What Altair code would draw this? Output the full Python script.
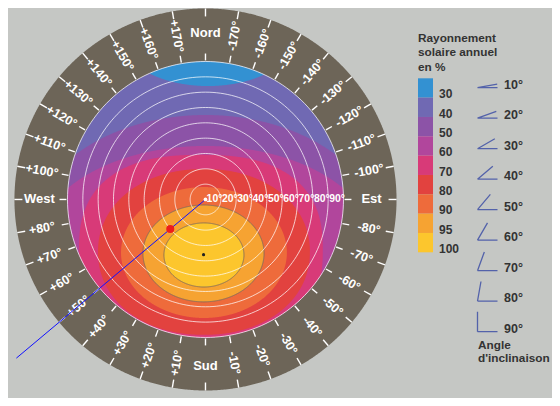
import numpy as np
import pandas as pd
import altair as alt

# ---------------- data ----------------
# legend: annual solar radiation in %
levels = ["30", "40", "50", "60", "70", "80", "90", "95", "100"]
level_colors = ["#3391d2", "#7069b3", "#8c53a7", "#b1469c", "#d83a78",
                "#e2423f", "#ee6b3b", "#f6a332", "#fcc62d"]

# contour regions, in degrees of tilt from the centre (x east-positive, y north-positive)
ell_level = ["30", "50", "60", "70", "80", "90", "95", "100"]
ell_cx = [1.6, 0.0, 0.0, -3.0, -1.0, -1.0, -1.3, -1.0]
ell_cy = [104.0, -26.4, -29.7, -32.9, -34.2, -34.6, -35.2, -36.2]
ell_rx = [55.4, 116.1, 109.6, 79.5, 69.1, 54.1, 39.5, 26.1]
ell_ry = [30.0, 81.5, 64.6, 62.0, 54.1, 42.7, 31.6, 20.9]
ell_power = [2.0, 2.0, 2.0, 2.5, 2.1, 2.0, 2.0, 2.0]
ell_outlined = [False, False, False, False, False, False, True, True]

# tilt circles
tilts = [10, 20, 30, 40, 50, 60, 70, 80, 90]
tilt_labels = ["10°", "20°", "30°", "40°", "50°", "60°", "70°", "80°", "90°"]

# azimuth ring (0 = Sud, +90 = West, -90 = Est, 180 = Nord)
azimuths = [-170, -160, -150, -140, -130, -120, -110, -100, -90, -80, -70, -60,
            -50, -40, -30, -20, -10, 0, 10, 20, 30, 40, 50, 60, 70, 80, 90,
            100, 110, 120, 130, 140, 150, 160, 170, 180]
azimuth_labels = ["-170°", "-160°", "-150°", "-140°", "-130°", "-120°", "-110°",
                  "-100°", "Est", "-80°", "-70°", "-60°", "-50°", "-40°", "-30°",
                  "-20°", "-10°", "Sud", "+10°", "+20°", "+30°", "+40°", "+50°",
                  "+60°", "+70°", "+80°", "West", "+100°", "+110°", "+120°",
                  "+130°", "+140°", "+150°", "+160°", "+170°", "Nord"]

# chosen orientation (blue line), chosen point (red) and optimum (black)
line_azimuth = 50
line_tilts = [0, 161]
red_point = {"azimuth": 50, "tilt": 30}
best_point = {"azimuth": 2, "tilt": 36}

# inclination legend
angle_values = [10, 20, 30, 40, 50, 60, 70, 80, 90]
angle_labels = ["10°", "20°", "30°", "40°", "50°", "60°", "70°", "80°", "90°"]

title_lines = ["Rayonnement", "solaire annuel", "en %"]
angle_title_lines = ["Angle", "d'inclinaison"]

# ---------------- layout / style ----------------
W, H = 544, 390
R_DISK = 90.0
R_OUTER = 124.6
R_LABEL = 108.3
TICK_IN = (90.7, 95.2)
TICK_OUT = (119.4, 124.6)
FONT = "Liberation Sans"
BG = "#c5c7c4"
RING = "#6d6558"
color_of = dict(zip(levels, level_colors))

xs = alt.Scale(domain=[-128.8, 226.0], nice=False, zero=False)
ys = alt.Scale(domain=[-129.5, 124.9], nice=False, zero=False)


def X(f="x"):
    return alt.X(f"{f}:Q", scale=xs, axis=None)


def Y(f="y"):
    return alt.Y(f"{f}:Q", scale=ys, axis=None, stack=None)


def polar(az, t):
    a = np.radians(np.asarray(az, dtype=float))
    t = np.asarray(t, dtype=float)
    return -t * np.sin(a), -t * np.cos(a)


def region(cx, cy, rx, ry, p=2.0, clip=None, n=600):
    lo_x, hi_x = cx - rx, cx + rx
    if clip is not None:
        lo_x, hi_x = max(lo_x, -clip), min(hi_x, clip)
    t = np.linspace(0, np.pi, n)
    x = (lo_x + hi_x) / 2 - (hi_x - lo_x) / 2 * np.cos(t)
    u = np.clip(np.abs((x - cx) / rx), 0, 1)
    eh = ry * np.clip(1 - u ** p, 0, None) ** (1.0 / p)
    lo, hi = cy - eh, cy + eh
    if clip is not None:
        dh = np.sqrt(np.clip(clip ** 2 - x ** 2, 0, None))
        lo, hi = np.maximum(lo, -dh), np.minimum(hi, dh)
    keep = hi >= lo
    return pd.DataFrame({"x": x[keep], "y": lo[keep], "y2": hi[keep]})


def area_layer(df, color, stroke=None):
    kw = dict(color=color, orient="vertical")
    if stroke:
        kw.update(stroke=stroke, strokeWidth=0.9)
    return alt.Chart(df).mark_area(**kw).encode(x=X(), y=Y(), y2="y2:Q")


layers = []
# outer ring and disk
layers.append(area_layer(region(0, 0, R_OUTER, R_OUTER), RING))
layers.append(area_layer(region(0, 0, R_DISK, R_DISK), color_of["40"]))
# contour regions
for lv, cx, cy, rx, ry, pw, ol in zip(ell_level, ell_cx, ell_cy, ell_rx, ell_ry,
                                      ell_power, ell_outlined):
    layers.append(area_layer(region(cx, cy, rx, ry, p=pw, clip=R_DISK), color_of[lv],
                             stroke="#7a6a60" if ol else None))

# tilt circles
rows = []
ang = np.linspace(0, 360, 181)
for t in tilts:
    cxs, cys = polar(ang, [t] * len(ang))
    for i, (a, b) in enumerate(zip(cxs, cys)):
        rows.append({"c": t, "i": i, "x": a, "y": b})
circ = pd.DataFrame(rows)
layers.append(alt.Chart(circ).mark_line(color="white", strokeWidth=0.9, opacity=0.8)
              .encode(x=X(), y=Y(), detail="c:N", order="i:Q"))

# azimuth ticks
trows = []
for az in azimuths:
    for r0, r1 in (TICK_IN, TICK_OUT):
        x0, y0 = polar(az, r0)
        x1, y1 = polar(az, r1)
        trows.append({"x": float(x0), "y": float(y0), "x2": float(x1), "y2": float(y1)})
ticks = pd.DataFrame(trows)
layers.append(alt.Chart(ticks).mark_rule(color="white", strokeWidth=1.4)
              .encode(x=X(), y=Y(), x2="x2:Q", y2="y2:Q"))

# azimuth labels
lrows = []
for az, lab in zip(azimuths, azimuth_labels):
    x0, y0 = polar(az, R_LABEL)
    if az in (0, 180):
        a = 0
    elif az < 0:
        a = 90 + az
    else:
        a = az - 90
    lrows.append({"x": float(x0), "y": float(y0), "t": lab, "ang": a % 360,
                  "fs": 13 if lab[0] not in "+-" else 12.5})
lab_df = pd.DataFrame(lrows)
layers.append(alt.Chart(lab_df).mark_text(color="white", fontWeight="bold", font=FONT,
                                          align="center", baseline="middle")
              .encode(x=X(), y=Y(), text="t:N", angle=alt.Angle("ang:Q", scale=None),
                      size=alt.Size("fs:Q", scale=None)))

# tilt labels along the east axis
tl = pd.DataFrame({"x": tilts, "y": [0] * len(tilts), "t": tilt_labels})
layers.append(alt.Chart(tl).mark_text(color="white", font=FONT, fontSize=10.4,
                                      fontWeight="bold", align="right",
                                      baseline="middle", dx=1.5)
              .encode(x=X(), y=Y(), text="t:N"))

# blue orientation line
lx, ly = polar([line_azimuth] * len(line_tilts), line_tilts)
ldf = pd.DataFrame({"x": lx, "y": ly, "i": range(len(line_tilts))})
layers.append(alt.Chart(ldf).mark_line(color="#1010ff", strokeWidth=1)
              .encode(x=X(), y=Y(), order="i:Q"))

# points
rx_, ry_ = polar(red_point["azimuth"], red_point["tilt"])
bx_, by_ = polar(best_point["azimuth"], best_point["tilt"])
pts = pd.DataFrame({"x": [float(rx_), float(bx_), 0.0], "y": [float(ry_), float(by_), 0.0],
                    "col": ["#ee1c1c", "#222222", "#ffffff"], "sz": [64, 10, 14]})
layers.append(alt.Chart(pts).mark_point(filled=True, opacity=1)
              .encode(x=X(), y=Y(), color=alt.Color("col:N", scale=None),
                      size=alt.Size("sz:Q", scale=None)))

main = alt.layer(*layers)

# ---------------- legend: colour boxes ----------------
box_df = pd.DataFrame({"lv": levels, "col": level_colors})
yb = alt.Y("lv:N", scale=alt.Scale(domain=levels, range=[70.3, 244.3],
                                   paddingInner=0, paddingOuter=0), axis=None)
boxes = alt.Chart(box_df).mark_rect().encode(
    y=yb, x=alt.value(410), x2=alt.value(425), color=alt.Color("col:N", scale=None))
box_labels = alt.Chart(box_df).mark_text(align="left", baseline="alphabetic", dy=10.3,
                                         font=FONT, fontSize=12, fontWeight="bold",
                                         color="#333333").encode(
    y=yb, x=alt.value(431), text="lv:N")
legend_boxes = alt.layer(boxes, box_labels)

# ---------------- legend: inclination icons ----------------
paths = []
for a in angle_values:
    r = np.radians(a)
    ex, ey = -1 + 2 * np.cos(r), 1 - 2 * np.sin(r)
    paths.append(f"M -1 1 L 1 1 M -1 1 L {ex:.3f} {ey:.3f}")
icon_df = pd.DataFrame({"a": angle_labels, "p": paths})
ya = alt.Y("a:N", scale=alt.Scale(type="point", domain=angle_labels, range=[69.7, 313.7],
                                  padding=0), axis=None)
icons = alt.Chart(icon_df).mark_point(filled=False, size=400, strokeWidth=1.3,
                                      color="#5362aa", opacity=1).encode(
    y=ya, x=alt.value(479.5), shape=alt.Shape("p:N", scale=None))
icon_labels = alt.Chart(icon_df).mark_text(align="left", baseline="alphabetic", dy=10.8,
                                           font=FONT, fontSize=12.5, fontWeight="bold",
                                           color="#333333").encode(
    y=ya, x=alt.value(496), text="a:N")
legend_icons = alt.layer(icons, icon_labels)

# ---------------- titles ----------------
tdf = pd.DataFrame({"t": ["\n".join(title_lines), "\n".join(angle_title_lines)],
                    "k": ["a", "b"]})
title1 = alt.Chart(tdf[tdf.k == "a"]).mark_text(
    align="left", baseline="alphabetic", lineBreak="\n", lineHeight=14.5, font=FONT,
    fontSize=11.8, fontWeight="bold", color="#333333").encode(
    x=alt.value(410), y=alt.value(33.7), text="t:N")
title2 = alt.Chart(tdf[tdf.k == "b"]).mark_text(
    align="left", baseline="alphabetic", lineBreak="\n", lineHeight=13.5, font=FONT,
    fontSize=11.8, fontWeight="bold", color="#333333").encode(
    x=alt.value(470), y=alt.value(340.7), text="t:N")

chart = alt.layer(main, legend_boxes, legend_icons, title1, title2).resolve_scale(
    x="independent", y="independent"
).properties(
    width=W, height=H, padding=0, background=BG,
    autosize=alt.AutoSizeParams(type="none"),
).configure_view(stroke=None)

chart.save("out.html", embed_options={"renderer": "svg", "actions": False})
